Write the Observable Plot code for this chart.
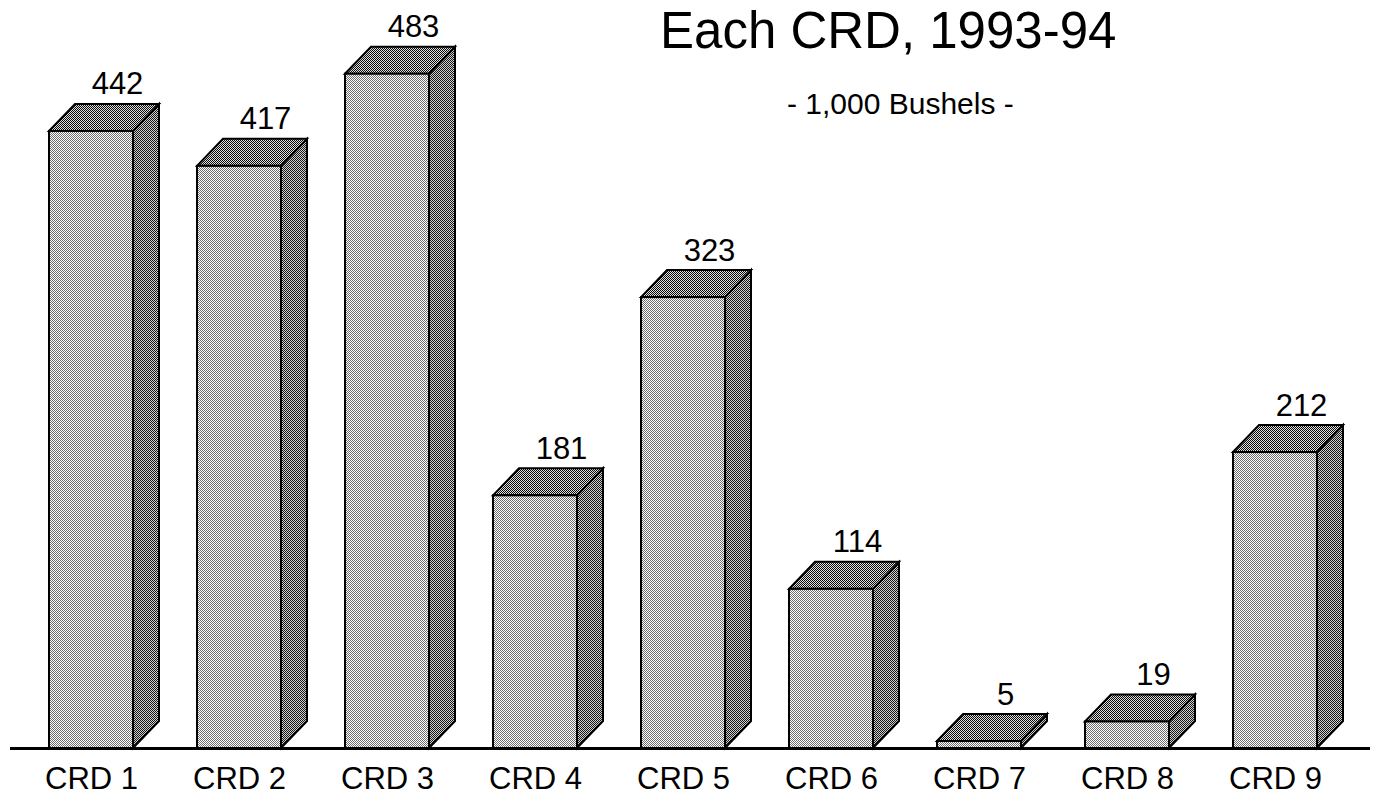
<!DOCTYPE html>
<html><head><meta charset="utf-8">
<script src="https://cdn.jsdelivr.net/npm/d3@7"></script>
<script src="https://cdn.jsdelivr.net/npm/@observablehq/plot@0.6"></script>
<style>
body{margin:0;background:#fff;font-family:"Liberation Sans",Arial,sans-serif;}
#wrap{position:relative;width:1393px;height:800px;overflow:hidden;background:#fff}
#title{position:absolute;left:660px;top:5px;font-size:51px;line-height:1;white-space:nowrap;color:#000}
#sub{position:absolute;left:787px;top:89px;font-size:30px;line-height:1;white-space:nowrap;color:#000}
#chart{position:absolute;left:0;top:0}
</style></head><body>
<div id="wrap"><div id="chart"></div><div id="title">Each CRD, 1993-94</div><div id="sub">- 1,000 Bushels -</div></div>
<script>
const categories = ["CRD 1","CRD 2","CRD 3","CRD 4","CRD 5","CRD 6","CRD 7","CRD 8","CRD 9"];
const values = [442,417,483,181,323,114,5,19,212];
const data = categories.map((c,i)=>({crd:c, value:values[i]}));
const DX = 26, DY = 27;

function bars3d(index, scales, channels, dimensions, context) {
  const g = d3.create("svg:g");
  const defs = g.append("defs");
  function checker(id, a, b) {
    const p = defs.append("pattern").attr("id", id).attr("patternUnits","userSpaceOnUse")
      .attr("width",2).attr("height",2);
    p.append("rect").attr("width",2).attr("height",2).attr("fill",a);
    p.append("rect").attr("width",1).attr("height",1).attr("fill",b);
    p.append("rect").attr("x",1).attr("y",1).attr("width",1).attr("height",1).attr("fill",b);
  }
  checker("pFront","#ffffff","#6e6e6e");
  checker("pTop","#e0e0e0","#0a0a0a");
  checker("pSide","#d0d0d0","#151515");
  const bw = scales.x.bandwidth();
  const y0 = scales.y(0);
  for (const i of index) {
    const d = data[i];
    const x0 = scales.x(d.crd), x1 = x0 + bw, y1 = scales.y(d.value);
    const common = s => s.attr("stroke","#000").attr("stroke-width",2).attr("stroke-linejoin","miter");
    common(g.append("path").attr("fill","url(#pSide)")
      .attr("d",`M${x1},${y1}L${x1+DX},${y1-DY}L${x1+DX},${y0-DY}L${x1},${y0}Z`));
    common(g.append("path").attr("fill","url(#pTop)")
      .attr("d",`M${x0},${y1}L${x0+DX},${y1-DY}L${x1+DX},${y1-DY}L${x1},${y1}Z`));
    common(g.append("rect").attr("fill","url(#pFront)")
      .attr("x",x0).attr("y",y1).attr("width",bw).attr("height",y0-y1));
  }
  return g.node();
}

const chart = Plot.plot({
  width: 1393,
  height: 800,
  marginLeft: 47,
  marginRight: 75,
  marginTop: 50,
  marginBottom: 52,
  style: {fontFamily: '"Liberation Sans", Arial, sans-serif', background: "transparent"},
  x: {domain: categories, paddingInner: 0.434, paddingOuter: 0, label: null},
  y: {domain: [0, 500], axis: null},
  marks: [
    Plot.barY(data, {x: "crd", y: "value", render: bars3d}),
    Plot.ruleY([0], {stroke: "#000", strokeWidth: 3, insetLeft: -37, insetRight: -52}),
    Plot.text(data, {x: "crd", y: "value", text: d => String(d.value), dx: DX, dy: -(DY + 10),
      lineAnchor: "bottom", fontSize: 31, fill: "#000"}),
    Plot.axisX({tickSize: 0, tickPadding: 18, fontSize: 31, label: null, color: "#000"})
  ]
});
document.getElementById("chart").appendChild(chart);
</script>
</body></html>
